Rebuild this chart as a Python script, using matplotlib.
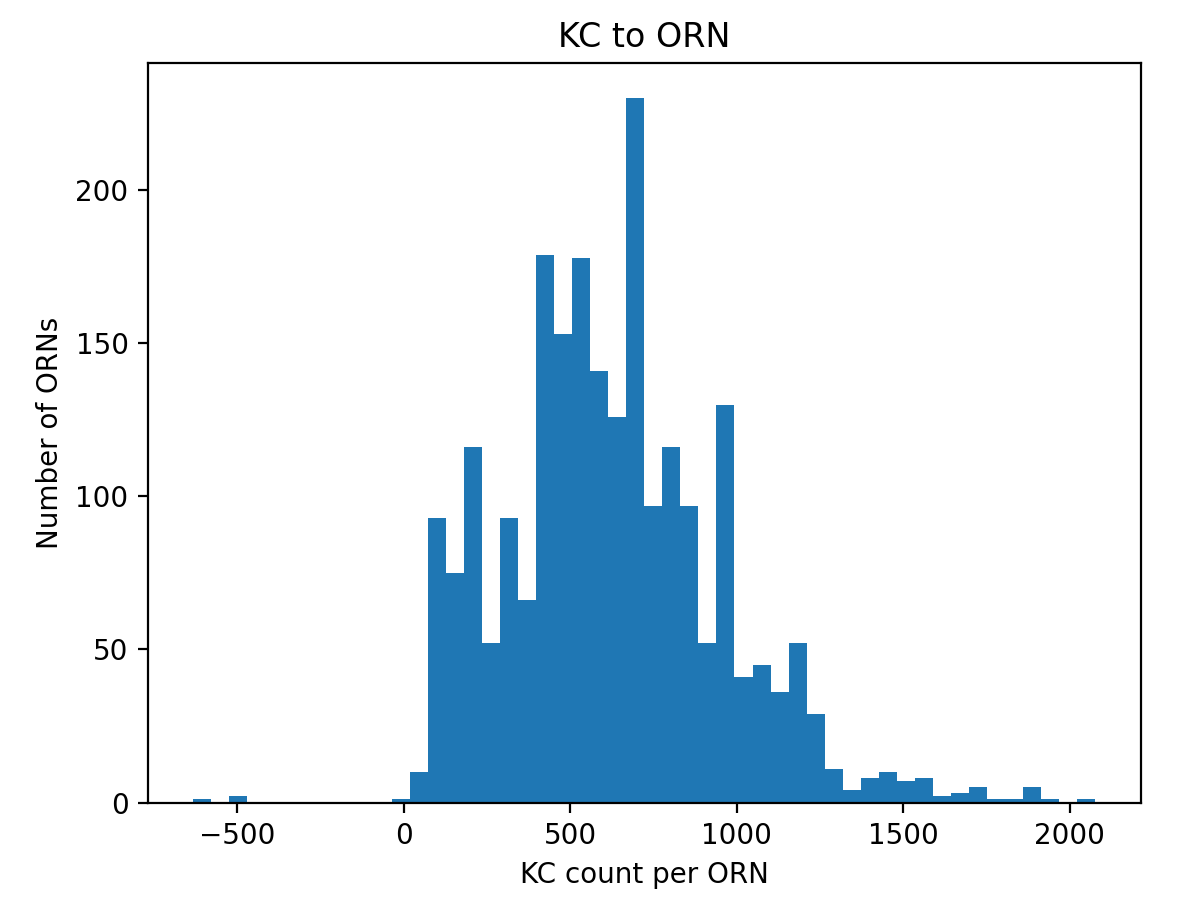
import numpy as np
import matplotlib
matplotlib.use("Agg")
import matplotlib.pyplot as plt

# Histogram of KC count per ORN: 50 equal-width bins
bin_low = -633.0
bin_high = 2077.0
n_bins = 50
counts = [1, 0, 2, 0, 0, 0, 0, 0, 0, 0,
          0, 1, 10, 93, 75, 116, 52, 93, 66, 179,
          153, 178, 141, 126, 230, 97, 116, 97, 52, 130,
          41, 45, 36, 52, 29, 11, 4, 8, 10, 7,
          8, 2, 3, 5, 1, 1, 5, 1, 0, 1]

title = "KC to ORN"
xlabel = "KC count per ORN"
ylabel = "Number of ORNs"

edges = np.linspace(bin_low, bin_high, n_bins + 1)
centers = (edges[:-1] + edges[1:]) / 2

fig = plt.figure(figsize=(1181 / 200, 909 / 200), dpi=200)
ax = fig.add_axes([148 / 1181, (909 - 802.5) / 909,
                   (1140.5 - 148) / 1181, (802.5 - 63.3) / 909])
ax.hist(centers, bins=edges, weights=counts, color="#1f77b4")
ax.set_title(title)
ax.set_xlabel(xlabel)
ax.set_ylabel(ylabel)
ax.set_yticks([0, 50, 100, 150, 200])
ax.set_xticks([-500, 0, 500, 1000, 1500, 2000])

fig.savefig("out.png", dpi=200)
